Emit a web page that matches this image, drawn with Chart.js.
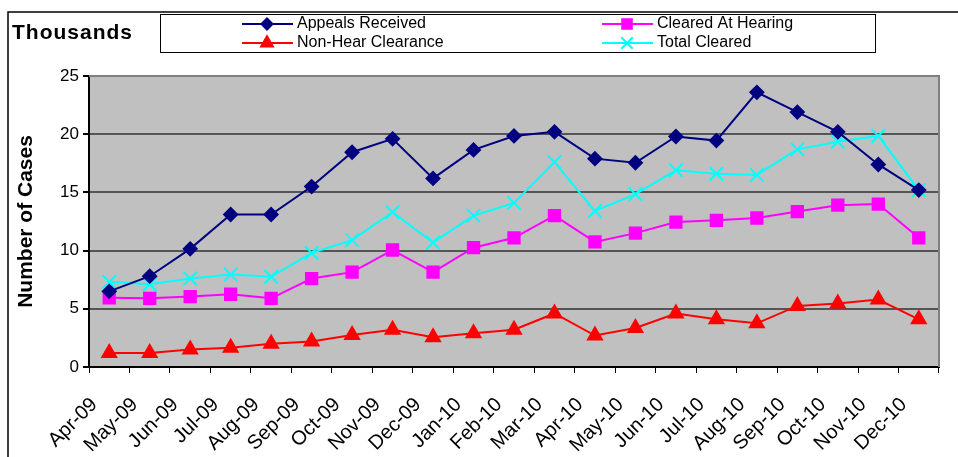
<!DOCTYPE html>
<html>
<head>
<meta charset="utf-8">
<script src="https://cdn.jsdelivr.net/npm/chart.js"></script>
<style>
  body { margin: 0; background: #fff; }
  #wrap { width: 958px; height: 457px; position: relative; }
</style>
</head>
<body>
<div id="wrap"><canvas id="casesChart"></canvas></div>
<script>
// months Apr-09 .. Dec-10, values in thousands
const months = ['Apr-09', 'May-09', 'Jun-09', 'Jul-09', 'Aug-09', 'Sep-09', 'Oct-09', 'Nov-09', 'Dec-09',
    'Jan-10', 'Feb-10', 'Mar-10', 'Apr-10', 'May-10', 'Jun-10', 'Jul-10', 'Aug-10', 'Sep-10', 'Oct-10', 'Nov-10', 'Dec-10'];
const appealsReceived = [6.5, 7.8, 10.15, 13.1, 13.1, 15.5, 18.45, 19.6, 16.2, 18.65, 19.85, 20.2, 17.9, 17.55, 19.8, 19.45, 23.6, 21.9, 20.2, 17.4, 15.2];
const clearedAtHearing = [5.95, 5.9, 6.05, 6.25, 5.9, 7.6, 8.15, 10.05, 8.15, 10.25, 11.1, 13.0, 10.75, 11.5, 12.45, 12.6, 12.8, 13.35, 13.9, 14.0, 11.1];
const nonHearClearance = [1.2, 1.2, 1.5, 1.65, 2.0, 2.2, 2.75, 3.2, 2.55, 2.9, 3.2, 4.6, 2.7, 3.35, 4.6, 4.1, 3.75, 5.25, 5.45, 5.8, 4.1];
const totalCleared = [7.3, 7.1, 7.6, 7.95, 7.75, 9.8, 10.9, 13.3, 10.7, 13.0, 14.1, 17.6, 13.4, 14.85, 16.9, 16.6, 16.5, 18.7, 19.35, 19.85, 15.2];
const yTicks = [0, 5, 10, 15, 20, 25];

const FONT = 'Arial, "Liberation Sans", sans-serif';

// plot background, outer border, "Thousands" and the 2x2 legend box
const decorPlugin = {
    id: 'decor',
    beforeDraw(chart) {
        const { ctx, chartArea: a } = chart;
        ctx.save();
        ctx.fillStyle = '#C0C0C0';
        ctx.fillRect(a.left, a.top, a.right - a.left, a.bottom - a.top);
        ctx.restore();
    },
    afterDraw(chart) {
        const { ctx, chartArea: a } = chart;
        ctx.save();
        // plot border top/right
        ctx.strokeStyle = '#808080';
        ctx.lineWidth = 2;
        ctx.beginPath();
        ctx.moveTo(a.left, a.top);
        ctx.lineTo(a.right, a.top);
        ctx.lineTo(a.right, a.bottom);
        ctx.stroke();

        // outer chart border
        ctx.strokeStyle = '#000';
        ctx.lineWidth = 1.5;
        ctx.strokeRect(8, 12, 980, 480);

        ctx.fillStyle = '#000';
        ctx.font = 'bold 21px ' + FONT;
        ctx.textBaseline = 'middle';
        ctx.letterSpacing = '1px';
        ctx.fillText('Thousands', 12, 33);
        ctx.letterSpacing = '0px';

        // legend
        ctx.lineWidth = 1;
        ctx.strokeStyle = '#000';
        ctx.strokeRect(160.5, 14.5, 715, 38);
        const slots = [[242, 24], [602, 24], [242, 43], [602, 43]];
        ctx.font = '16px ' + FONT;
        chart.data.datasets.forEach((ds, k) => {
            const [x, y] = slots[k];
            ctx.strokeStyle = ds.borderColor;
            ctx.fillStyle = ds.borderColor;
            ctx.lineWidth = 2;
            ctx.beginPath();
            ctx.moveTo(x, y);
            ctx.lineTo(x + 51, y);
            ctx.stroke();
            Chart.helpers.drawPoint(ctx, {
                pointStyle: ds.pointStyle,
                radius: ds.pointRadius * 0.85,
                borderWidth: ds.pointBorderWidth || 1
            }, x + 25, y);
            ctx.fillStyle = '#000';
            ctx.fillText(ds.label, x + 55, y);
        });
        ctx.restore();
    }
};

const mkSet = (label, data, color, style, radius, extra) => Object.assign({
    label: label,
    data: data,
    borderColor: color,
    backgroundColor: color,
    borderWidth: 2,
    pointStyle: style,
    pointRadius: radius,
    pointHoverRadius: radius,
    pointBackgroundColor: color,
    pointBorderColor: color,
    tension: 0
}, extra || {});

new Chart(document.getElementById('casesChart'), {
    type: 'line',
    data: {
        labels: months,
        datasets: [
            mkSet('Appeals Received', appealsReceived, '#000080', 'rectRot', 6.5),
            mkSet('Cleared At Hearing', clearedAtHearing, '#FF00FF', 'rect', 8),
            mkSet('Non-Hear Clearance', nonHearClearance, '#FF0000', 'triangle', 8),
            mkSet('Total Cleared', totalCleared, '#00FFFF', 'crossRot', 9.5, { pointBorderWidth: 2 })
        ]
    },
    options: {
        responsive: true,
        maintainAspectRatio: false,
        animation: false,
        layout: { padding: { top: 76, right: 19, left: 0, bottom: 0 } },
        plugins: {
            legend: { display: false },
            tooltip: { enabled: false }
        },
        scales: {
            x: {
                offset: true,
                grid: {
                    offset: true,
                    drawOnChartArea: false,
                    drawTicks: true,
                    tickLength: 6,
                    color: '#000'
                },
                border: { color: '#000', width: 2 },
                ticks: {
                    color: '#000',
                    font: { family: FONT, size: 20 },
                    minRotation: 45,
                    maxRotation: 45,
                    autoSkip: false,
                    padding: 20,
                    labelOffset: -15
                },
                afterFit: (scale) => { scale.height = 90; }
            },
            y: {
                min: 0,
                max: 25,
                afterBuildTicks: (scale) => { scale.ticks = yTicks.map(v => ({ value: v })); },
                grid: {
                    color: (c) => c.tick.value === 0 || c.tick.value === 25 ? 'rgba(0,0,0,0)' : '#555',
                    lineWidth: 2,
                    drawTicks: true,
                    tickLength: 6,
                    tickColor: '#000'
                },
                border: { color: '#000', width: 2 },
                ticks: {
                    color: '#000',
                    font: { family: FONT, size: 17 },
                    padding: 4
                },
                title: {
                    display: true,
                    text: 'Number of Cases',
                    color: '#000',
                    font: { family: FONT, size: 21, weight: 'bold' },
                    padding: { top: 14, bottom: 0 }
                },
                afterFit: (scale) => { scale.width = 89; }
            }
        }
    },
    plugins: [decorPlugin]
});
</script>
</body>
</html>
